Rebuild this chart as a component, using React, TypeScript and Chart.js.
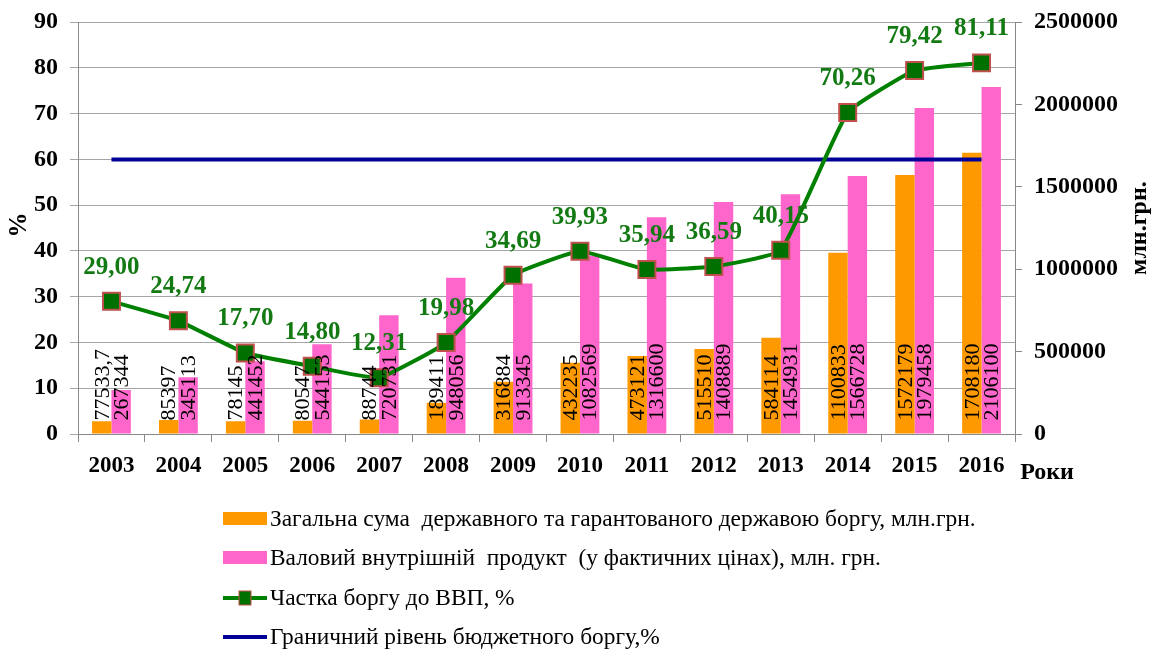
import React, { useEffect, useRef } from 'react';
import { Chart, registerables } from 'chart.js';

Chart.register(...registerables);

const years = ['2003', '2004', '2005', '2006', '2007', '2008', '2009', '2010', '2011', '2012', '2013', '2014', '2015', '2016'];
const debt = [77533.7, 85397, 78145, 80547, 88744, 189411, 316884, 432235, 473121, 515510, 584114, 1100833, 1572179, 1708180];
const gdp = [267344, 345113, 441452, 544153, 720731, 948056, 913345, 1082569, 1316600, 1408889, 1454931, 1566728, 1979458, 2106100];
const share = [29.0, 24.74, 17.7, 14.8, 12.31, 19.98, 34.69, 39.93, 35.94, 36.59, 40.15, 70.26, 79.42, 81.11];
const limitLevel = 60;
const limitSeries = years.map(() => limitLevel);

const leftMax = 90;
const leftStep = 10;
const rightMax = 2500000;
const rightStep = 500000;

const seriesNames = [
  'Загальна сума  державного та гарантованого державою боргу, млн.грн.',
  'Валовий внутрішній  продукт  (у фактичних цінах), млн. грн.',
  'Частка боргу до ВВП, %',
  'Граничний рівень бюджетного боргу,%',
];
const leftTitle = '%';
const rightTitle = 'млн.грн.';
const xTitle = 'Роки';

const FONT = "'Liberation Serif', 'Times New Roman', serif";
const ORANGE = '#ff9900';
const PINK = '#ff66cc';
const GREEN = '#008000';
const LABEL_GREEN = '#137a13';
const NAVY = '#000099';

const fmt = (v: number) => String(v).replace('.', ',');

const labelPlugin = {
  id: 'customLabels',
  afterDatasetsDraw(chart: any) {
    const ctx = chart.ctx;
    // bar value labels (rotated)
    [2, 3].forEach((di) => {
      const meta = chart.getDatasetMeta(di);
      const data = chart.data.datasets[di].data as number[];
      meta.data.forEach((el: any, i: number) => {
        ctx.save();
        ctx.translate(el.x, el.base - 13);
        ctx.rotate(-Math.PI / 2);
        ctx.font = `22px ${FONT}`;
        ctx.fillStyle = '#000';
        ctx.textAlign = 'left';
        ctx.textBaseline = 'middle';
        ctx.fillText(fmt(data[i]), 0, 1);
        ctx.restore();
      });
    });
    // share labels
    const meta = chart.getDatasetMeta(0);
    meta.data.forEach((el: any, i: number) => {
      ctx.save();
      ctx.font = `bold 25px ${FONT}`;
      ctx.fillStyle = LABEL_GREEN;
      ctx.textAlign = 'center';
      ctx.textBaseline = 'middle';
      ctx.fillText(share[i].toFixed(2).replace('.', ','), el.x, el.y - 34);
      ctx.restore();
    });
  },
  afterDraw(chart: any) {
    const ctx = chart.ctx;
    const area = chart.chartArea;
    const midY = (area.top + area.bottom) / 2;
    // axis titles
    ctx.save();
    ctx.font = `bold 25px ${FONT}`;
    ctx.fillStyle = '#000';
    ctx.textAlign = 'center';
    ctx.textBaseline = 'middle';
    ctx.translate(20, 225);
    ctx.rotate(-Math.PI / 2);
    ctx.fillText(leftTitle, 0, 0);
    ctx.restore();

    ctx.save();
    ctx.font = `bold 24px ${FONT}`;
    ctx.fillStyle = '#000';
    ctx.textAlign = 'center';
    ctx.textBaseline = 'middle';
    ctx.translate(1140, midY);
    ctx.rotate(-Math.PI / 2);
    ctx.fillText(rightTitle, 0, 0);
    ctx.restore();

    ctx.save();
    ctx.font = `bold 24px ${FONT}`;
    ctx.fillStyle = '#000';
    ctx.textAlign = 'center';
    ctx.textBaseline = 'middle';
    ctx.fillText(xTitle, 1047, 473);
    ctx.restore();

    // legend
    const rows = [519, 558, 598, 637];
    const sx = 223;
    const sw = 44;
    ctx.save();
    rows.forEach((y, i) => {
      if (i === 0 || i === 1) {
        ctx.fillStyle = i === 0 ? ORANGE : PINK;
        ctx.fillRect(sx, y - 7, sw, 13);
      } else if (i === 2) {
        ctx.strokeStyle = GREEN;
        ctx.lineWidth = 4;
        ctx.beginPath();
        ctx.moveTo(sx, y);
        ctx.lineTo(sx + sw, y);
        ctx.stroke();
        ctx.fillStyle = '#007000';
        ctx.strokeStyle = '#c0504d';
        ctx.lineWidth = 1;
        ctx.fillRect(sx + sw / 2 - 6, y - 7, 12, 14);
        ctx.strokeRect(sx + sw / 2 - 6, y - 7, 12, 14);
      } else {
        ctx.strokeStyle = NAVY;
        ctx.lineWidth = 4;
        ctx.beginPath();
        ctx.moveTo(sx, y);
        ctx.lineTo(sx + sw, y);
        ctx.stroke();
      }
      ctx.font = `23.4px ${FONT}`;
      ctx.fillStyle = '#000';
      ctx.textAlign = 'left';
      ctx.textBaseline = 'middle';
      ctx.fillText(seriesNames[i], sx + sw + 3, y + 1);
    });
    ctx.restore();
  },
};

export default function App() {
  const ref = useRef<HTMLCanvasElement | null>(null);
  useEffect(() => {
    document.body.style.margin = '0';
    document.body.style.overflow = 'hidden';
    const canvas = ref.current;
    if (!canvas) return;
    const chart = new Chart(canvas, {
      type: 'bar',
      data: {
        labels: years,
        datasets: [
          {
            type: 'line',
            label: seriesNames[2],
            data: share,
            yAxisID: 'y',
            borderColor: GREEN,
            borderWidth: 4,
            pointStyle: 'rect',
            pointRadius: 12,
            pointBackgroundColor: '#007000',
            pointBorderColor: '#c0504d',
            pointBorderWidth: 2,
            tension: 0.12,
            order: 0,
          } as any,
          {
            type: 'line',
            label: seriesNames[3],
            data: limitSeries,
            yAxisID: 'y',
            borderColor: NAVY,
            borderWidth: 4,
            pointRadius: 0,
            order: 1,
          } as any,
          {
            type: 'bar',
            label: seriesNames[0],
            data: debt,
            yAxisID: 'y1',
            backgroundColor: ORANGE,
            categoryPercentage: 0.58,
            barPercentage: 1,
            order: 2,
          } as any,
          {
            type: 'bar',
            label: seriesNames[1],
            data: gdp,
            yAxisID: 'y1',
            backgroundColor: PINK,
            categoryPercentage: 0.58,
            barPercentage: 1,
            order: 3,
          } as any,
        ],
      },
      options: {
        responsive: false,
        animation: false,
        layout: { padding: { top: 7, left: 0, right: 0, bottom: 0 } },
        plugins: { legend: { display: false }, tooltip: { enabled: false } },
        scales: {
          x: {
            grid: { display: true, drawOnChartArea: false, drawTicks: true, tickLength: 8, color: '#888', offset: true },
            border: { color: '#888' },
            ticks: { font: { family: FONT, size: 23, weight: 'bold' }, color: '#000', padding: 10, maxRotation: 0 },
            afterFit: (s: any) => { s.height = 653 - 434; },
          },
          y: {
            position: 'left',
            min: 0,
            max: leftMax,
            ticks: { stepSize: leftStep, font: { family: FONT, size: 24, weight: 'bold', lineHeight: 0.85 }, color: '#000', padding: 12 },
            grid: { color: '#a6a6a6', tickLength: 8 },
            border: { color: '#888' },
            afterFit: (s: any) => { s.width = 78; },
          },
          y1: {
            position: 'right',
            min: 0,
            max: rightMax,
            ticks: { stepSize: rightStep, font: { family: FONT, size: 24, weight: 'bold', lineHeight: 0.85 }, color: '#000', padding: 12, callback: (v: any) => String(v) },
            grid: { drawOnChartArea: false, tickLength: 7, color: '#888' },
            border: { color: '#888' },
            afterFit: (s: any) => { s.width = 138; },
          },
        },
      } as any,
      plugins: [labelPlugin],
    });
    return () => chart.destroy();
  }, []);
  return (
    <div style={{ width: 1153, height: 653 }}>
      <canvas ref={ref} width={1153} height={653} />
    </div>
  );
}
